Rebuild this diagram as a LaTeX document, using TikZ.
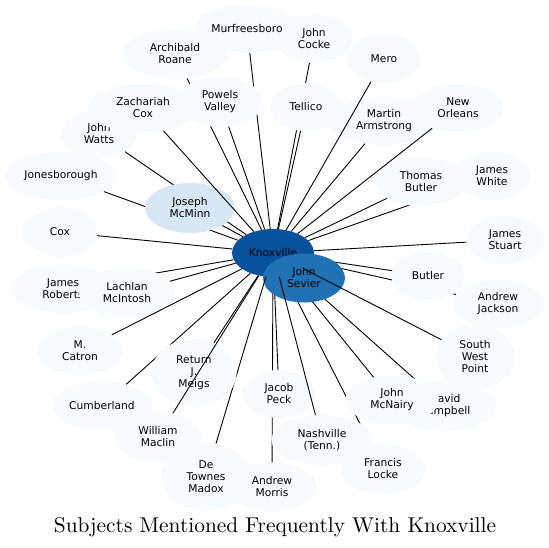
\documentclass[tikz,border=0pt]{standalone}
\usepackage{fontspec}
\setsansfont{DejaVu Sans}
\newfontfamily\titlefont{lmroman10-regular.otf}
\usepackage{xcolor}
\usetikzlibrary{shapes.geometric}

\definecolor{paleblue}{HTML}{F7FBFF}
\definecolor{softblue}{HTML}{D8E7F5}
\definecolor{midblue}{HTML}{2171B5}
\definecolor{deepblue}{HTML}{08519C}

\begin{document}
\begin{tikzpicture}[
  x=1pt, y=-1pt,
  every node/.style={font=\sffamily\fontsize{10.7}{12}\selectfont},
  subject/.style={ellipse, fill=paleblue, align=center, inner sep=0pt, minimum height=48pt},
  link/.style={line width=0.9pt},
]

\useasboundingbox (0,0) rectangle (549,548);

\node[subject, fill=deepblue, minimum width=82pt] (knox) at (273,253) {Knoxville};

\node[subject, minimum width=90pt, minimum height=49pt] (morris) at (272,487) {Andrew\\Morris};
\draw[link] (knox) -- (morris);
\node[subject, minimum width=85pt, minimum height=50pt] (locke) at (383,469) {Francis\\Locke};
\draw[link] (knox) -- (locke);
\node[subject, minimum width=104pt, minimum height=50pt] (campbell) at (445,406) {David\\Campbell};
\draw[link] (knox) -- (campbell);
\node[subject, minimum width=93pt, minimum height=49pt] (mcnairy) at (392,400) {John\\McNairy};
\draw[link] (knox) -- (mcnairy);
\node[subject, minimum width=91pt, minimum height=49pt] (jackson) at (498,304) {Andrew\\Jackson};
\draw[link] (knox) -- (jackson);
\node[subject, minimum width=73pt, minimum height=49pt] (butler) at (428,276) {Butler};
\draw[link] (knox) -- (butler);
\node[subject, minimum width=74pt] (peck) at (279,394) {Jacob\\Peck};
\draw[link] (knox) -- (peck);

\node[subject, fill=midblue, minimum width=82pt, minimum height=49pt] (sevier) at (304,278) {John\\Sevier};

\node[subject, minimum width=101pt, minimum height=50pt] (nashville) at (322,440) {Nashville\\(Tenn.)};
\draw[link] (knox) -- (nashville);
\node[subject, minimum width=79pt, minimum height=65pt] (swpoint) at (475,357) {South\\West\\Point};
\draw[link] (knox) -- (swpoint);
\node[subject, minimum width=77pt, minimum height=49pt] (stuart) at (505,240) {James\\Stuart};
\draw[link] (knox) -- (stuart);
\node[subject, minimum width=77pt] (jwhite) at (492,176) {James\\White};
\draw[link] (knox) -- (jwhite);
\node[subject, minimum width=92pt] (tbutler) at (421,182) {Thomas\\Butler};
\draw[link] (knox) -- (tbutler);
\node[subject, minimum width=110pt] (armstrong) at (384,121) {Martin\\Armstrong};
\draw[link] (knox) -- (armstrong);
\node[subject, minimum width=91pt, minimum height=49pt] (orleans) at (458,108) {New\\Orleans};
\draw[link] (knox) -- (orleans);
\node[subject, minimum width=73pt] (mero) at (384,59) {Mero};
\draw[link] (knox) -- (mero);
\node[subject, minimum width=78pt] (cocke) at (314,39) {John\\Cocke};
\draw[link] (knox) -- (cocke);
\node[subject, minimum width=72pt] (tellico) at (306,107) {Tellico};
\draw[link] (knox) -- (tellico);
\node[subject, minimum width=105pt] (murf) at (247,29) {Murfreesboro};
\draw[link] (knox) -- (murf);
\node[subject, minimum width=105pt, minimum height=50pt] (roane) at (175,54) {Archibald\\Roane};
\draw[link] (knox) -- (roane);
\node[subject, minimum width=86pt, minimum height=50pt] (powels) at (220,102) {Powels\\Valley};
\draw[link] (knox) -- (powels);
\node[subject, minimum width=112pt] (jones) at (61,176) {Jonesborough};
\draw[link] (knox) -- (jones);
\node[subject, minimum width=76pt] (watts) at (99,134) {John\\Watts};
\draw[link] (knox) -- (watts);
\node[subject, fill=softblue, minimum width=90pt, minimum height=50pt] (mcminn) at (190,208) {Joseph\\McMinn};
\draw[link] (knox) -- (mcminn);
\node[subject, minimum width=110pt, minimum height=49pt] (zcox) at (143,108) {Zachariah\\Cox};
\draw[link] (knox) -- (zcox);
\node[subject, minimum width=74pt, minimum height=50pt] (cox) at (60,232) {Cox};
\draw[link] (knox) -- (cox);
\node[subject, minimum width=104pt] (roberts) at (63,289) {James\\Roberts};
\draw[link] (knox) -- (roberts);
\node[subject, minimum width=96pt, minimum height=50pt] (mcintosh) at (127,293) {Lachlan\\McIntosh};
\draw[link] (knox) -- (mcintosh);
\node[subject, minimum width=85pt] (catron) at (80,351) {M.\\Catron};
\draw[link] (knox) -- (catron);
\node[subject, minimum width=101pt, minimum height=49pt] (cumberland) at (102,406) {Cumberland};
\draw[link] (knox) -- (cumberland);
\node[subject, minimum width=89pt, minimum height=68pt] (madox) at (206,477) {De\\Townes\\Madox};
\draw[link] (knox) -- (madox);
\node[subject, minimum width=85pt, minimum height=68pt] (meigs) at (194,373) {Return\\J.\\Meigs};
\draw[link] (knox) -- (meigs);
\node[subject, minimum width=88pt, minimum height=50pt] (maclin) at (158,437) {William\\Maclin};
\draw[link] (knox) -- (maclin);

\node[font=\titlefont\fontsize{21.4}{25}\selectfont, anchor=base] (title) at (275,532) {Subjects Mentioned Frequently With Knoxville};

\end{tikzpicture}
\end{document}
